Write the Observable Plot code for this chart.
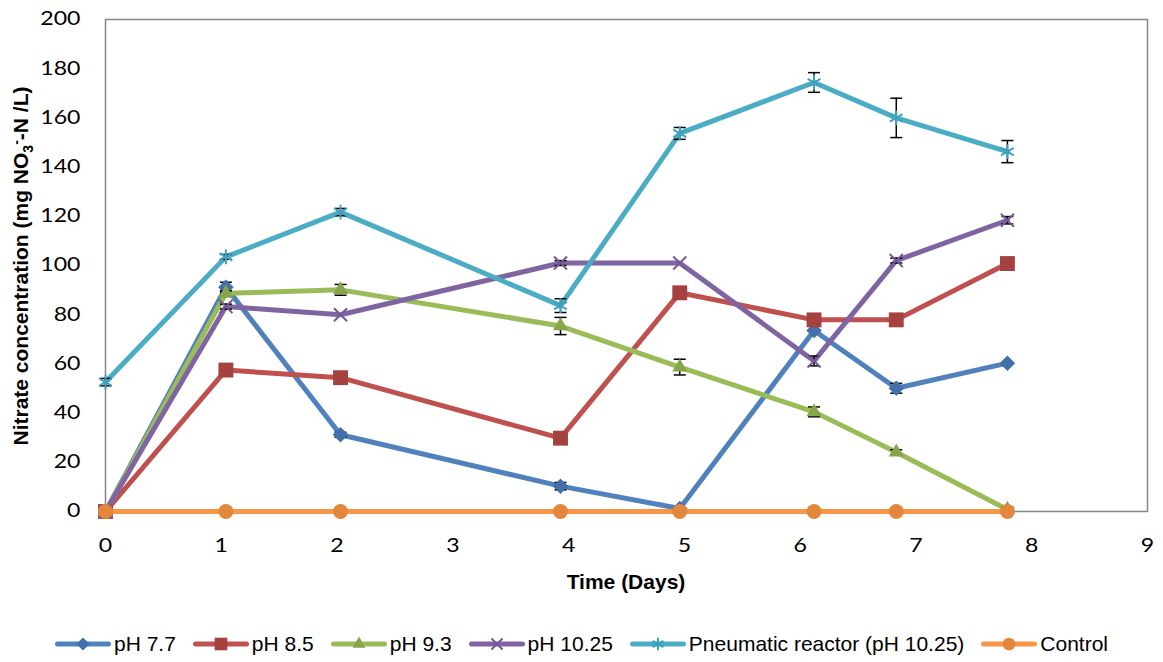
<!DOCTYPE html>
<html><head><meta charset="utf-8">
<script src="https://cdn.jsdelivr.net/npm/d3@7"></script>
<script src="https://cdn.jsdelivr.net/npm/@observablehq/plot@0.6"></script>
<style>
body{margin:0;background:#fff;}
#legend{display:flex;justify-content:center;align-items:center;height:36px;font-family:"Liberation Sans",Arial,sans-serif;font-size:21px;color:#000;}
.item{display:flex;align-items:center;margin:0 8.5px;white-space:nowrap;}
.item svg{margin-right:3px;}
</style></head><body>
<div id="chart"></div><div id="legend"></div>
<script>
// ---- data ----
const days = [0, 1.04, 2.03, 3.93, 4.96, 6.12, 6.83, 7.79];
const seriesNames = ["pH 7.7", "pH 8.5", "pH 9.3", "pH 10.25", "Pneumatic reactor (pH 10.25)", "Control"];
const ph77 = [0, 91.2, 31.2, 10.3, 1.2, 73.6, 50.1, 60.3];
const ph85 = [0, 57.5, 54.4, 29.8, 88.9, 77.9, 77.9, 100.8];
const ph93 = [0, 88.7, 90.1, 75.4, 58.7, 40.5, 24.1, 0.8];
const ph1025 = [0, 83.3, 80.0, 101.0, 101.0, 61.2, 102.0, 118.4];
const pneumatic = [52.6, 103.5, 121.7, 83.7, 153.7, 174.4, 160.0, 146.3];
const control = [0, 0, 0, 0, 0, 0, 0, 0];
const err77 = [0, 2, 1, 1.5, 0, 0, 2, 0];
const err85 = [0, 1, 0, 0, 0, 0, 0, 0];
const err93 = [0, 1, 2.2, 3.5, 3.2, 2, 1, 1];
const err1025 = [0, 1, 0, 1, 0, 2, 1, 1.5];
const errPneu = [1.5, 1, 1.5, 2.8, 2.4, 4, 8, 4.5];
const errCtrl = [0, 0, 0, 0, 0, 0, 0, 0];
const xTicks = [0, 1, 2, 3, 4, 5, 6, 7, 8, 9];
const yTicks = [0, 20, 40, 60, 80, 100, 120, 140, 160, 180, 200];

// ---- styles ----
const values = [ph77, ph85, ph93, ph1025, pneumatic, control];
const errors = [err77, err85, err93, err1025, errPneu, errCtrl];
const lineColors = ["#4F81BD", "#C0504D", "#9BBB59", "#8064A2", "#4BACC6", "#F79646"];
const markerColors = ["#4170AA", "#A5413E", "#86A64A", "#735A96", "#3FA2BC", "#E2873B"];
const symbols = ["diamond2", "square", "triangle", "times", "asterisk", "circle"];
const radii = [7.0, 8.4, 5.6, 6.0, 7.0, 7.5];
const strokeSym = [false, false, false, true, true, false];

const capSymbol = {draw(ctx) { ctx.moveTo(-6, 0); ctx.lineTo(6, 0); }};

const marks = [Plot.frame({stroke: "#868686", strokeWidth: 1.5})];
values.forEach((vals, i) => {
  const data = days.map((d, j) => ({x: d, y: vals[j], e: errors[i][j]}));
  const errData = data.filter(d => d.e > 0);
  marks.push(Plot.line(data, {x: "x", y: "y", stroke: lineColors[i], strokeWidth: 5, strokeLinejoin: "round", strokeLinecap: "round"}));
  marks.push(Plot.ruleX(errData, {x: "x", y1: d => d.y - d.e, y2: d => d.y + d.e, stroke: "black", strokeWidth: 1.5}));
  marks.push(Plot.dot(errData, {x: "x", y: d => d.y - d.e, symbol: capSymbol, r: 1, stroke: "black", strokeWidth: 1.5, fill: "none"}));
  marks.push(Plot.dot(errData, {x: "x", y: d => d.y + d.e, symbol: capSymbol, r: 1, stroke: "black", strokeWidth: 1.5, fill: "none"}));
  marks.push(Plot.dot(data, strokeSym[i]
    ? {x: "x", y: "y", symbol: symbols[i], r: radii[i], stroke: markerColors[i], strokeWidth: 2, fill: "none"}
    : {x: "x", y: "y", symbol: symbols[i], r: radii[i], fill: markerColors[i], stroke: "none"}));
});

const chart = Plot.plot({
  width: 1163, height: 626,
  marginLeft: 105, marginRight: 16, marginTop: 19, marginBottom: 115,
  style: {fontFamily: "Lato, sans-serif", fontSize: "18.5px", color: "#000", background: "#fff"},
  x: {domain: [0, 9], ticks: xTicks, tickSize: 0, tickPadding: 27, label: null, tickFormat: d => String(d)},
  y: {domain: [0, 200], ticks: yTicks, tickSize: 0, tickPadding: 25, label: null, tickFormat: d => String(d)},
  marks
});
document.getElementById("chart").appendChild(chart);

const svg = d3.select(chart);
svg.selectAll('[aria-label="x-axis tick label"] text, [aria-label="y-axis tick label"] text').each(function() {
  const t = this.textContent;
  this.setAttribute("textLength", t.length * 13.4);
  this.setAttribute("lengthAdjust", "spacingAndGlyphs");
});

const titleFont = "bold 21px 'Liberation Sans', Arial, sans-serif";
svg.append("text").attr("x", 626).attr("y", 589).attr("text-anchor", "middle")
  .style("font", titleFont).attr("fill", "#000").text("Time (Days)");
const yt = svg.append("text").attr("transform", "translate(28,266) rotate(-90)")
  .attr("text-anchor", "middle").style("font", titleFont).attr("fill", "#000");
yt.append("tspan").text("Nitrate concentration (mg NO");
yt.append("tspan").attr("font-size", 14).attr("dy", 5).text("3");
yt.append("tspan").attr("font-size", 14).attr("dy", -12).text("-");
yt.append("tspan").attr("dy", 7).text("-N /L)");

// ---- legend ----
const legend = d3.select("#legend");
const legendSym = {diamond2: d3.symbolDiamond2, square: d3.symbolSquare, triangle: d3.symbolTriangle,
  times: d3.symbolTimes, asterisk: d3.symbolAsterisk, circle: d3.symbolCircle};
seriesNames.forEach((name, i) => {
  const item = legend.append("div").attr("class", "item");
  const s = item.append("svg").attr("width", 56).attr("height", 22);
  s.append("line").attr("x1", 2.5).attr("x2", 53.5).attr("y1", 11).attr("y2", 11)
    .attr("stroke", lineColors[i]).attr("stroke-width", 5).attr("stroke-linecap", "round");
  const r = radii[i] * 0.85;
  const p = s.append("path").attr("transform", "translate(28,11)")
    .attr("d", d3.symbol(legendSym[symbols[i]], Math.PI * r * r)());
  if (strokeSym[i]) p.attr("fill", "none").attr("stroke", markerColors[i]).attr("stroke-width", 2);
  else p.attr("fill", markerColors[i]);
  item.append("span").text(name);
});
</script></body></html>
